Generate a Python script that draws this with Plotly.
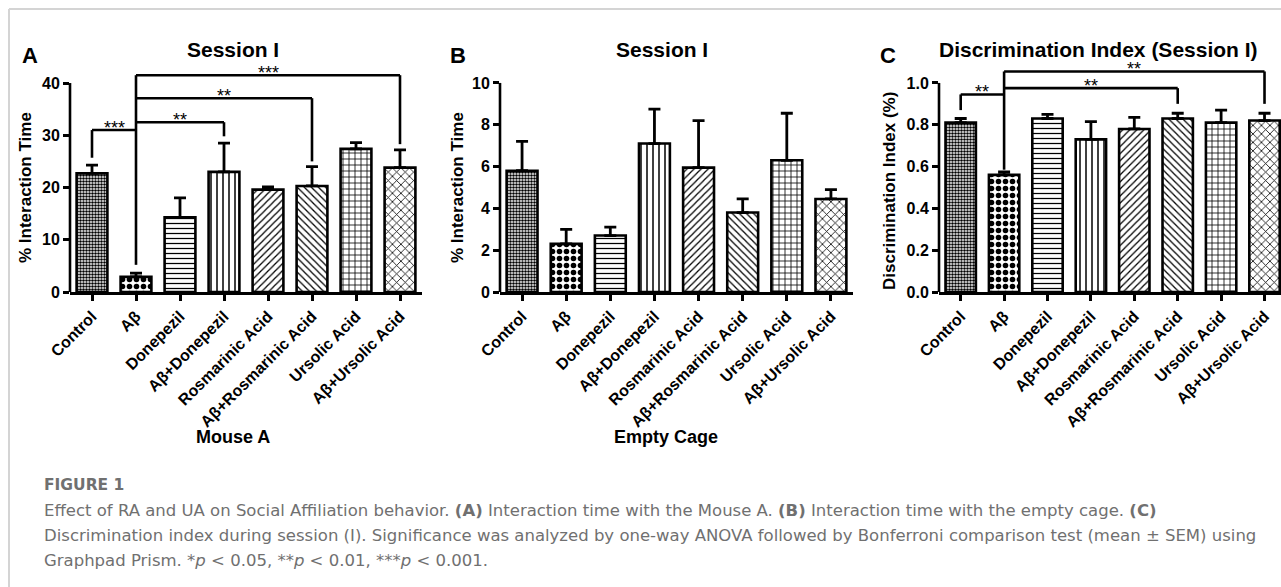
import plotly.graph_objects as go

W, H = 1281, 587

categories = ["Control", "Aβ", "Donepezil", "Aβ+Donepezil", "Rosmarinic Acid",
              "Aβ+Rosmarinic Acid", "Ursolic Acid", "Aβ+Ursolic Acid"]

mouse_a_mean = [22.7, 2.9, 14.3, 23.0, 19.6, 20.3, 27.4, 23.8]
mouse_a_sem = [1.6, 0.7, 3.7, 5.5, 0.5, 3.7, 1.2, 3.4]

empty_cage_mean = [5.8, 2.3, 2.7, 7.1, 5.95, 3.8, 6.3, 4.45]
empty_cage_sem = [1.4, 0.7, 0.4, 1.65, 2.25, 0.65, 2.25, 0.45]

di_mean = [0.81, 0.56, 0.83, 0.73, 0.78, 0.83, 0.81, 0.82]
di_sem = [0.02, 0.015, 0.02, 0.085, 0.055, 0.025, 0.06, 0.035]

yticks_a = [0, 10, 20, 30, 40]
yticks_b = [0, 2, 4, 6, 8, 10]
yticks_c = [0.0, 0.2, 0.4, 0.6, 0.8, 1.0]
yticks_c_text = ["0.0", "0.2", "0.4", "0.6", "0.8", "1.0"]

# significance brackets: (group i, group j, bracket height, leg bottom at the non-hub end, label)
hub_group = 1
sig_a = [(0, 1, 31.0, 25.7, "***"), (1, 3, 32.5, 29.8, "**"),
         (1, 5, 37.1, 25.0, "**"), (1, 7, 41.5, 28.3, "***")]
hub_a_bottom = 5.2
sig_c = [(0, 1, 0.945, 0.87, "**"), (1, 5, 0.975, 0.90, "**"),
         (1, 7, 1.055, 0.90, "**")]
hub_c_bottom = 0.585

pattern_shapes = [".", ".", "-", "|", "/", "\\", "+", "x"]
pattern_sizes = [3, 7, 5, 6, 5, 5, 6, 6]
pattern_solid = [0.55, 0.5, 0.25, 0.25, 0.25, 0.25, 0.25, 0.25]

FONT = "Liberation Sans"


def px_x(p):
    return p / W


def px_y(p):
    return 1 - p / H


fig = go.Figure()

panels = [
    dict(mean=mouse_a_mean, sem=mouse_a_sem, xs="x", ys="y", xd=(70, 422), xr=[-0.5, 7.5],
         yr=[0, 43.26], ticks=yticks_a, ticktext=[str(t) for t in yticks_a]),
    dict(mean=empty_cage_mean, sem=empty_cage_sem, xs="x2", ys="y2", xd=(500, 853), xr=[-0.5, 7.5],
         yr=[0, 10.81], ticks=yticks_b, ticktext=[str(t) for t in yticks_b]),
    dict(mean=di_mean, sem=di_sem, xs="x3", ys="y3", xd=(939, 1281), xr=[-0.5, 7.38],
         yr=[0, 1.081], ticks=yticks_c, ticktext=yticks_c_text),
]

ydom = [px_y(292), px_y(66)]
shapes = []
annotations = []

for k, p in enumerate(panels):
    fig.add_trace(go.Bar(
        x=categories, y=p["mean"], xaxis=p["xs"], yaxis=p["ys"], width=0.7,
        marker=dict(color="white", line=dict(color="black", width=2.6),
                    pattern=dict(shape=pattern_shapes, size=pattern_sizes,
                                 solidity=pattern_solid, fgcolor="black",
                                 bgcolor="white", fillmode="replace")),
        error_y=dict(type="data", symmetric=False, array=p["sem"],
                     arrayminus=[0] * len(p["sem"]), color="black",
                     thickness=2.8, width=6),
        showlegend=False, hoverinfo="skip",
    ))
    sfx = "" if k == 0 else str(k + 1)
    fig.layout["xaxis" + sfx] = dict(
        domain=[px_x(p["xd"][0]), px_x(p["xd"][1])], anchor=p["ys"], range=p["xr"],
        type="category", showline=True, linewidth=2.6, linecolor="black",
        ticks="outside", ticklen=6, tickwidth=2.6, tickcolor="black",
        tickangle=-45, showgrid=False, zeroline=False, automargin=False,
        tickfont=dict(family=FONT, size=16, color="black", weight="bold"),
    )
    fig.layout["yaxis" + sfx] = dict(
        domain=ydom, anchor=p["xs"], range=p["yr"], showline=False,
        tickvals=p["ticks"], ticktext=p["ticktext"],
        ticks="outside", ticklen=6, tickwidth=2.6, tickcolor="black",
        showgrid=False, zeroline=False, automargin=False,
        tickfont=dict(family=FONT, size=16, color="black", weight="bold"),
    )
    # y-axis line up to the top tick
    shapes.append(dict(type="line", xref=p["xs"] + " domain", yref=p["ys"],
                       x0=0, x1=0, y0=0, y1=p["ticks"][-1],
                       line=dict(color="black", width=2.6)))


def add_sig(sig, hub_bottom, xs, ys):
    top = max(s[2] for s in sig)
    shapes.append(dict(type="line", xref=xs, yref=ys, x0=hub_group, x1=hub_group,
                       y0=hub_bottom, y1=top, line=dict(color="black", width=2.6)))
    for i, j, h, leg, lab in sig:
        shapes.append(dict(type="line", xref=xs, yref=ys, x0=i, x1=j, y0=h, y1=h,
                           line=dict(color="black", width=2.6)))
        end = i if j == hub_group else j
        shapes.append(dict(type="line", xref=xs, yref=ys, x0=end, x1=end, y0=leg, y1=h,
                           line=dict(color="black", width=2.6)))
        annotations.append(dict(x=(i + j) / 2, y=h, xref=xs, yref=ys, text=lab,
                                showarrow=False, yanchor="middle", yshift=2,
                                font=dict(family=FONT, size=18, color="black")))


add_sig(sig_a, hub_a_bottom, "x", "y")
add_sig(sig_c, hub_c_bottom, "x3", "y3")

# titles, panel letters, axis titles
for txt, cx in [("Session I", 233), ("Session I", 662), ("Discrimination Index (Session I)", 1098)]:
    annotations.append(dict(x=px_x(cx), y=px_y(50), xref="paper", yref="paper", text=txt,
                            showarrow=False, xanchor="center", yanchor="middle",
                            font=dict(family=FONT, size=21, color="black", weight="bold")))
for txt, cx in [("A", 30), ("B", 458), ("C", 888)]:
    annotations.append(dict(x=px_x(cx), y=px_y(56), xref="paper", yref="paper", text=txt,
                            showarrow=False, xanchor="center", yanchor="middle",
                            font=dict(family=FONT, size=22, color="black", weight="bold")))
for txt, cx, cy in [("% Interaction Time", 25, 188), ("% Interaction Time", 457, 188),
                    ("Discrimination Index (%)", 890, 191)]:
    annotations.append(dict(x=px_x(cx), y=px_y(cy), xref="paper", yref="paper", text=txt,
                            showarrow=False, xanchor="center", yanchor="middle", textangle=-90,
                            font=dict(family=FONT, size=17, color="black", weight="bold")))
for txt, cx in [("Mouse A", 233), ("Empty Cage", 666)]:
    annotations.append(dict(x=px_x(cx), y=px_y(437), xref="paper", yref="paper", text=txt,
                            showarrow=False, xanchor="center", yanchor="middle",
                            font=dict(family=FONT, size=18, color="black", weight="bold")))

# caption
CAP = "DejaVu Sans"
CAPC = "#707070"
annotations.append(dict(x=px_x(42), y=px_y(485), xref="paper", yref="paper", text="<b>FIGURE 1</b>",
                        showarrow=False, xanchor="left", yanchor="middle",
                        font=dict(family=CAP, size=15.5, color=CAPC)))
caption_lines = [
    "Effect of RA and UA on Social Affiliation behavior. <b>(A)</b> Interaction time with the Mouse A. "
    "<b>(B)</b> Interaction time with the empty cage. <b>(C)</b>",
    "Discrimination index during session (I). Significance was analyzed by one-way ANOVA followed by "
    "Bonferroni comparison test (mean ± SEM) using",
    "Graphpad Prism. *<i>p</i> &lt; 0.05, **<i>p</i> &lt; 0.01, ***<i>p</i> &lt; 0.001.",
]
for line, cy in zip(caption_lines, [510, 535, 560]):
    annotations.append(dict(x=px_x(42), y=px_y(cy), xref="paper", yref="paper", text=line,
                            showarrow=False, xanchor="left", yanchor="middle",
                            font=dict(family=CAP, size=16.5, color=CAPC)))

# outer frame lines
shapes.append(dict(type="line", xref="paper", yref="paper", x0=px_x(9), x1=1, y0=px_y(9), y1=px_y(9),
                   line=dict(color="#d4d4d4", width=2)))
shapes.append(dict(type="line", xref="paper", yref="paper", x0=px_x(9), x1=px_x(9), y0=0, y1=px_y(9),
                   line=dict(color="#d4d4d4", width=2)))

fig.update_layout(
    width=W, height=H, margin=dict(l=0, r=0, t=0, b=0, autoexpand=False),
    paper_bgcolor="white", plot_bgcolor="white",
    bargap=0.3, shapes=shapes, annotations=annotations,
)

fig.write_html("out.html", config={"displayModeBar": False},
               post_script="document.body.style.margin='0';document.body.style.overflow='hidden';")
